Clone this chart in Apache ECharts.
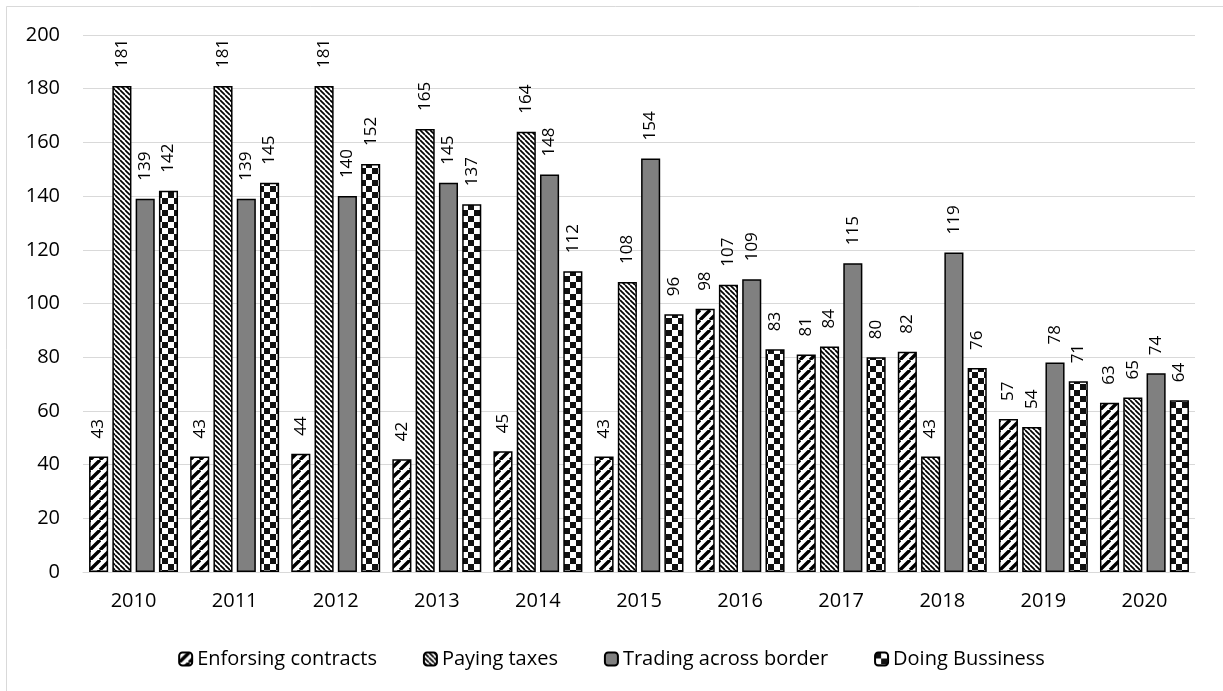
<!DOCTYPE html>
<html>
<head>
<meta charset="utf-8">
<title>Rankings 2010-2020</title>
<script src="https://cdn.jsdelivr.net/npm/echarts@6/dist/echarts.min.js"></script>
<style>
  html, body { margin: 0; padding: 0; background: #fff; }
  #chart { width: 1223px; height: 691px; }
</style>
</head>
<body>
<div id="chart"></div>
<script>
// Years on the category axis
const years = ['2010', '2011', '2012', '2013', '2014', '2015', '2016', '2017', '2018', '2019', '2020'];

// Series values (rank per year)
const enforcingContracts = [43, 43, 44, 42, 45, 43, 98, 81, 82, 57, 63];
const payingTaxes        = [181, 181, 181, 165, 164, 108, 107, 84, 43, 54, 65];
const tradingAcrossBorder = [139, 139, 140, 145, 148, 154, 109, 115, 119, 78, 74];
const doingBusiness      = [142, 145, 152, 137, 112, 96, 83, 80, 76, 71, 64];

const seriesNames = ['Enforsing contracts', 'Paying taxes', 'Trading across border', 'Doing Bussiness'];

// Value axis ticks
const yMin = 0, yMax = 200, yStep = 20;

// ---- fill patterns ----
function makeTile(w, h, draw) {
  const c = document.createElement('canvas');
  c.width = w; c.height = h;
  const ctx = c.getContext('2d');
  ctx.fillStyle = '#fff';
  ctx.fillRect(0, 0, w, h);
  draw(ctx, w, h);
  return c;
}

// wide "/" stripes
const wideUpStripes = makeTile(10, 10, (ctx, w, h) => {
  ctx.strokeStyle = '#000';
  ctx.lineWidth = 3.4;
  ctx.beginPath();
  for (let k = -1; k <= 1; k++) {
    ctx.moveTo(k * w, h);
    ctx.lineTo(k * w + w, 0);
  }
  ctx.stroke();
});

// narrow "\" stripes
const narrowDownStripes = makeTile(5, 5, (ctx, w, h) => {
  ctx.strokeStyle = '#000';
  ctx.lineWidth = 1.7;
  ctx.beginPath();
  for (let k = -1; k <= 1; k++) {
    ctx.moveTo(k * w, 0);
    ctx.lineTo(k * w + w, h);
  }
  ctx.stroke();
});

// checkerboard
const checker = makeTile(12, 12, (ctx) => {
  ctx.fillStyle = '#111';
  ctx.fillRect(0, 0, 6, 6);
  ctx.fillRect(6, 6, 6, 6);
});

const fills = [
  { image: wideUpStripes, repeat: 'repeat' },
  { image: narrowDownStripes, repeat: 'repeat' },
  '#808080',
  { image: checker, repeat: 'repeat' }
];
const dataSets = [enforcingContracts, payingTaxes, tradingAcrossBorder, doingBusiness];

const FONT = '"Open Sans", "Noto Sans", sans-serif';

const chart = echarts.init(document.getElementById('chart'), null, { renderer: 'canvas' });

chart.setOption({
  backgroundColor: '#fff',
  animation: false,
  graphic: [{
    type: 'rect',
    shape: { x: 6.5, y: 6.5, width: 1240, height: 700 },
    style: { fill: 'none', stroke: '#d9d9d9', lineWidth: 1 },
    silent: true,
    z: -10
  }],
  grid: { left: 83, right: 28, top: 35, bottom: 119, containLabel: false },
  legend: {
    data: seriesNames,
    top: 644,
    left: 'center',
    itemWidth: 13,
    itemHeight: 13,
    itemGap: 46,
    textStyle: { fontFamily: FONT, fontSize: 20, color: '#000' }
  },
  xAxis: {
    type: 'category',
    data: years,
    axisLine: { lineStyle: { color: '#d9d9d9', width: 1 } },
    axisTick: { show: false },
    axisLabel: { fontFamily: FONT, fontSize: 20, color: '#000', margin: 19 }
  },
  yAxis: {
    type: 'value',
    min: yMin, max: yMax, interval: yStep,
    axisLine: { show: false },
    axisTick: { show: false },
    splitLine: { lineStyle: { color: '#d9d9d9', width: 1 } },
    axisLabel: { fontFamily: FONT, fontSize: 20, color: '#000', margin: 23 }
  },
  series: seriesNames.map((name, i) => ({
    name,
    type: 'bar',
    data: dataSets[i],
    barGap: '22%',
    barCategoryGap: '12%',
    itemStyle: { color: fills[i], borderColor: '#000', borderWidth: 1.5 },
    label: {
      show: true,
      position: 'top',
      rotate: 90,
      align: 'left',
      verticalAlign: 'middle',
      distance: 18,
      fontFamily: FONT,
      fontSize: 17,
      color: '#000'
    }
  }))
});
</script>
</body>
</html>
